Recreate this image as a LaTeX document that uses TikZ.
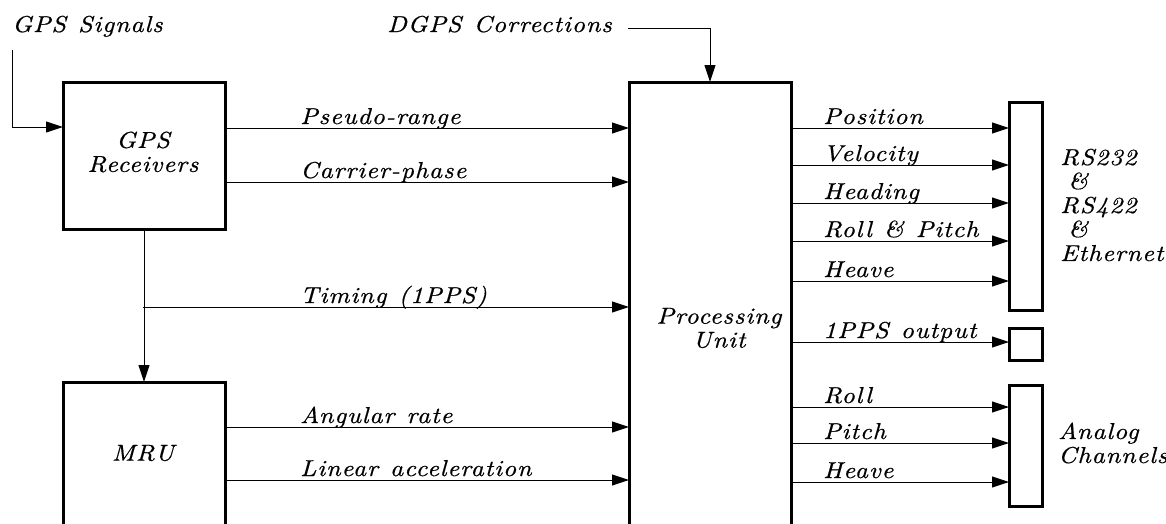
\documentclass[tikz,border=0pt]{standalone}
\usepackage{fontspec}
\usetikzlibrary{arrows.meta}
\newfontfamily\cadfont{lmroman10-italic.otf}[FakeStretch=1.12,LetterSpace=4,WordSpace=1.2,FakeBold=0.6]
\tikzset{
  cad/.style={font=\cadfont\fontsize{23pt}{24pt}\selectfont},
  box/.style={draw, line width=3pt, inner sep=0pt, outer sep=0pt},
  arr/.style={-{Triangle[length=17pt,width=11pt]}, line width=1pt},
  lab/.style={cad, anchor=base west, inner sep=0pt},
  txt/.style={cad, inner sep=0pt, align=center},
}
\begin{document}
\begin{tikzpicture}[x=1pt,y=-1pt]
\useasboundingbox (0,0) rectangle (1166,523);
% boxes
\node[box, minimum width=162pt, minimum height=147pt] (gps) at (144,155.5) {};
\node[box, minimum width=162pt, minimum height=148pt] (mru) at (144,456) {};
\node[box, minimum width=162pt, minimum height=448pt] (proc) at (710,306) {};
\node[box, minimum width=33pt, minimum height=208pt] (rs) at (1025.5,206) {};
\node[box, minimum width=33pt, minimum height=32pt] (pps) at (1025.5,344) {};
\node[box, minimum width=33pt, minimum height=121pt] (ana) at (1025.5,445.5) {};
% box texts
\node[txt] (gpst) at (143,152) {GPS\\Receivers};
\node[txt] (mrut) at (143,453) {MRU};
\node[txt] (proct) at (719,328) {Processing\\Unit};
\node[txt, align=left, anchor=west] (rst) at (1060,205) {RS232\\\hspace{8pt}\&\\RS422\\\hspace{8pt}\&\\Ethernet};
\node[txt, align=left, anchor=west] (anat) at (1058,443) {Analog\\Channels};
% top inputs
\node[lab] (gsigt) at (12,32) {GPS Signals};
\node[lab, anchor=base east] (dgpst) at (612,32) {DGPS Corrections};
\coordinate (gsig) at (12,50);
\coordinate (dgps) at (628,28);
\coordinate (y0) at (0,127);
\draw[arr] (gsig) |- (gps.west |- y0);
\draw[arr] (dgps) -| (proc.north);
% row coordinates
\foreach \n/\y in {a/128,b/182,t/307,c/427,d/480,
                   p1/128,p2/165,p3/203,p4/241,p5/281,p6/342,p7/407,p8/443,p9/482}
  \coordinate (r\n) at (0,\y);
% left connectors
\draw[arr] (gps.east |- ra) -- (proc.west |- ra);
\draw[arr] (gps.east |- rb) -- (proc.west |- rb);
\draw[arr] (gps.south) -- (mru.north);
\coordinate (tap) at (143,307);
\draw[arr] (tap) -- (proc.west |- rt);
\draw[arr] (mru.east |- rc) -- (proc.west |- rc);
\draw[arr] (mru.east |- rd) -- (proc.west |- rd);
\node[lab] (la) at (300,124) {Pseudo-range};
\node[lab] (lb) at (300,178) {Carrier-phase};
\node[lab] (lt) at (300,303) {Timing (1PPS)};
\node[lab] (lc) at (300,423) {Angular rate};
\node[lab] (ld) at (300,476) {Linear acceleration};
% right connectors
\foreach \r in {p1,p2,p3,p4,p5}
  \draw[arr] (proc.east |- r\r) -- (rs.west |- r\r);
\draw[arr] (proc.east |- rp6) -- (pps.west |- rp6);
\foreach \r in {p7,p8,p9}
  \draw[arr] (proc.east |- r\r) -- (ana.west |- r\r);
\node[lab] (l1) at (823,124) {Position};
\node[lab] (l2) at (823,161) {Velocity};
\node[lab] (l3) at (823,199) {Heading};
\node[lab] (l4) at (823,237) {Roll \& Pitch};
\node[lab] (l5) at (823,277) {Heave};
\node[lab] (l6) at (823,338) {1PPS output};
\node[lab] (l7) at (823,403) {Roll};
\node[lab] (l8) at (823,439) {Pitch};
\node[lab] (l9) at (823,478) {Heave};
\end{tikzpicture}
\end{document}
